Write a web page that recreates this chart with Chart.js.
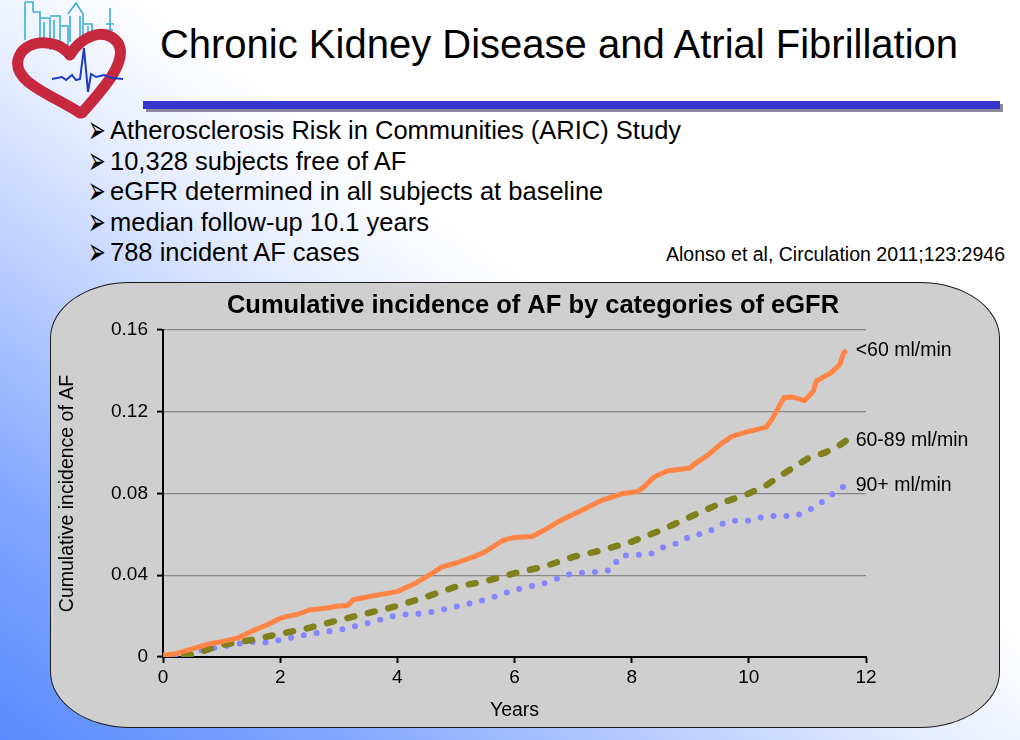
<!DOCTYPE html>
<html><head><meta charset="utf-8">
<script src="https://cdn.jsdelivr.net/npm/chart.js@4"></script>
<style>
html,body{margin:0;padding:0;width:1020px;height:740px;overflow:hidden;}
body{position:relative;font-family:"Liberation Sans",Arial,sans-serif;
 background:linear-gradient(to top right,#5a8aff 0%,#82a7ff 17%,#b8ccff 32%,#e6edff 46%,#ffffff 57%);}
#logo{position:absolute;left:0;top:0;}
#title{position:absolute;left:0;width:1118px;top:20px;text-align:center;font-size:40px;line-height:48px;color:#000;}
#barshadow{position:absolute;left:146px;top:104px;width:857px;height:8px;background:#8a8a9a;}
#bar{position:absolute;left:143px;top:101px;width:857px;height:8px;background:#3636cc;}
#bullets{position:absolute;left:88px;top:115px;margin:0;padding:0;list-style:none;font-size:25.5px;line-height:30.5px;color:#000;white-space:nowrap;}
#bullets li{height:30.5px;position:relative;padding-left:22px;}
#bullets span.b{position:absolute;left:0;top:0;font-family:"DejaVu Sans";font-size:30px;line-height:30px;transform:scale(0.7,1.3);transform-origin:0 55%;}
#cite{position:absolute;right:15px;top:243px;font-size:19.5px;color:#000;}
#panel{position:absolute;left:50px;top:282px;width:948px;height:444px;background:#cfcfcf;border:1.5px solid #1a1a1a;border-radius:80px/56px;}
#c{position:absolute;left:0;top:0;}
</style></head>
<body>
<svg id="logo" width="130" height="122" viewBox="0 0 130 122">
 <g fill="none" stroke="#3cb0d6" stroke-width="1.6">
  <path d="M25 2 V40 M25 2 H33 V12 M33 12 H40 V45"/>
  <path d="M40 18 H50 V50 M44 22 V48"/>
  <path d="M50 16 H60 V48 M54 20 V46"/>
  <path d="M60 26 H68 V50"/>
  <path d="M68 14 L76 3 L83 14 V40 M70 16 V42 M80 16 V40"/>
  <path d="M83 24 H92 V36 M88 26 V38"/>
  <path d="M95 34 H102 V40"/>
  <path d="M110 8 V40 M106 24 H114 M108 30 H113"/>
 </g>
 <path d="M80 113 C55 96,13 83,18 60 C22 40,55 36,70 55 C80 38,104 25,118 43 C129 62,101 91,82 113" fill="none" stroke="#c6283e" stroke-width="11" stroke-linecap="round" stroke-linejoin="round"/>
 <polyline points="52,79 62,77 66,80 72,75 76,80 80,79 84,48 88,92 91,74 96,77 104,75 112,78 123,79" fill="none" stroke="#1e3cc0" stroke-width="2"/>
</svg>
<div id="title">Chronic Kidney Disease and Atrial Fibrillation</div>
<div id="barshadow"></div>
<div id="bar"></div>
<ul id="bullets">
 <li><span class="b">➢</span>Atherosclerosis Risk in Communities (ARIC) Study</li>
 <li><span class="b">➢</span>10,328 subjects free of AF</li>
 <li><span class="b">➢</span>eGFR determined in all subjects at baseline</li>
 <li><span class="b">➢</span>median follow-up 10.1 years</li>
 <li><span class="b">➢</span>788 incident AF cases</li>
</ul>
<div id="cite">Alonso et al, Circulation 2011;123:2946</div>
<div id="panel"></div>
<canvas id="c" width="1020" height="740"></canvas>
<script>
// ---- data ----
const seriesNames = ['<60 ml/min', '60-89 ml/min', '90+ ml/min'];
const lowYears = [0,0.2,0.5,0.8,1,1.3,1.5,1.8,2,2.3,2.5,2.8,3,3.15,3.25,3.5,3.8,4,4.3,4.6,4.75,5,5.3,5.5,5.8,6,6.3,6.5,6.8,7.1,7.5,7.85,8.1,8.2,8.38,8.6,9,9.05,9.3,9.5,9.7,9.95,10.3,10.4,10.6,10.75,10.95,11.1,11.15,11.4,11.55,11.62,11.67];
const lowValues = [0.001,0.0015,0.004,0.0065,0.0075,0.0095,0.0124,0.016,0.019,0.021,0.023,0.024,0.025,0.0252,0.028,0.0295,0.031,0.032,0.036,0.041,0.044,0.046,0.049,0.0515,0.057,0.0585,0.059,0.062,0.067,0.0711,0.0768,0.080,0.081,0.083,0.088,0.091,0.0925,0.094,0.0988,0.1037,0.1078,0.110,0.1125,0.1165,0.127,0.1272,0.1254,0.130,0.135,0.139,0.143,0.149,0.150];
const midYears = [0,0.45,0.7,1,1.5,2,2.5,3,3.5,4,4.5,5,5.5,6,6.5,7,7.5,8,8.5,9,9.5,10,10.3,10.5,10.8,11,11.3,11.5,11.67];
const midValues = [0,0.001,0.003,0.0059,0.0083,0.0113,0.0143,0.018,0.0215,0.025,0.0295,0.0344,0.037,0.041,0.0442,0.049,0.0523,0.0564,0.062,0.0686,0.075,0.080,0.084,0.088,0.0934,0.097,0.100,0.1027,0.106];
const highYears = [0,1,1.5,1.7,2,2.5,3,3.5,4,4.5,5,5.5,6,6.5,7,7.45,7.65,7.8,8,8.3,8.5,8.8,9,9.3,9.5,9.7,10,10.3,10.8,11,11.2,11.4,11.5,11.67];
const highValues = [0,0.005,0.0075,0.0068,0.0083,0.0112,0.0132,0.0166,0.0205,0.0215,0.0246,0.028,0.0328,0.036,0.041,0.0417,0.0425,0.0494,0.050,0.050,0.0533,0.0558,0.0592,0.0608,0.0646,0.0667,0.0667,0.069,0.069,0.0714,0.0749,0.079,0.0817,0.084];
const xTickValues = [0,2,4,6,8,10,12];
const xTickLabels = ['0','2','4','6','8','10','12'];
const yTickValues = [0,0.04,0.08,0.12,0.16];
const yTickLabels = ['0','0.04','0.08','0.12','0.16'];
const chartTitle = 'Cumulative incidence of AF by categories of eGFR';
const xTitle = 'Years';
const yTitle = 'Cumulative incidence of AF';

const pts = (xs, ys) => xs.map((x, i) => ({x: x, y: ys[i]}));
const FONT = '"Liberation Sans", Arial, sans-serif';

const endLabels = {
  id: 'endLabels',
  afterDatasetsDraw(chart) {
    const ctx = chart.ctx;
    ctx.save();
    ctx.font = '19.5px ' + FONT;
    ctx.fillStyle = '#000';
    ctx.textBaseline = 'middle';
    ctx.textAlign = 'left';
    chart.data.datasets.forEach((ds, i) => {
      const meta = chart.getDatasetMeta(i);
      const p = meta.data[meta.data.length - 1];
      ctx.fillText(seriesNames[i], p.x + 9, p.y);
    });
    ctx.restore();
  }
};
const panelTitle = {
  id: 'panelTitle',
  afterDraw(chart) {
    const ctx = chart.ctx;
    ctx.save();
    ctx.font = 'bold 25.5px ' + FONT;
    ctx.fillStyle = '#000';
    ctx.textAlign = 'center';
    ctx.textBaseline = 'middle';
    ctx.fillText(chartTitle, 533, 306);
    ctx.restore();
  }
};

new Chart(document.getElementById('c'), {
  type: 'line',
  data: {
    datasets: [
      {label: seriesNames[0], data: pts(lowYears, lowValues), borderColor: '#ff8446', borderWidth: 5, pointRadius: 0, tension: 0, borderJoinStyle: 'round'},
      {label: seriesNames[1], data: pts(midYears, midValues), borderColor: '#80801c', borderWidth: 6.5, borderDash: [7, 14], borderCapStyle: 'round', pointRadius: 0, tension: 0},
      {label: seriesNames[2], data: pts(highYears, highValues), borderColor: '#8585ff', borderWidth: 6, borderDash: [0, 13], borderCapStyle: 'round', pointRadius: 0, tension: 0}
    ]
  },
  options: {
    responsive: false,
    animation: false,
    layout: {padding: {left: 52, right: 154, top: 330, bottom: 14}},
    plugins: {legend: {display: false}, tooltip: {enabled: false}, title: {display: false}},
    scales: {
      x: {
        type: 'linear', min: 0, max: 12,
        afterBuildTicks: s => { s.ticks = xTickValues.map(v => ({value: v})); },
        afterFit: s => { s.height = 69; },
        ticks: {callback: (v) => xTickLabels[xTickValues.indexOf(v)], color: '#000', font: {family: FONT, size: 19}, padding: 3, maxRotation: 0},
        grid: {drawOnChartArea: false, drawTicks: true, tickLength: 6, tickColor: '#000', tickWidth: 2},
        border: {color: '#000', width: 2},
        title: {display: true, text: xTitle, color: '#000', font: {family: FONT, size: 19.5}}
      },
      y: {
        type: 'linear', min: 0, max: 0.16,
        afterBuildTicks: s => { s.ticks = yTickValues.map(v => ({value: v})); },
        afterFit: s => { s.width = 111; },
        ticks: {callback: (v) => yTickLabels[yTickValues.indexOf(v)], color: '#000', font: {family: FONT, size: 19}, padding: 9},
        grid: {color: '#888888', lineWidth: 1.2, drawTicks: true, tickLength: 6, tickColor: '#000', tickWidth: 2},
        border: {color: '#000', width: 2},
        title: {display: true, text: yTitle, color: '#000', font: {family: FONT, size: 19.5}}
      }
    }
  },
  plugins: [endLabels, panelTitle]
});
</script>
</body></html>
